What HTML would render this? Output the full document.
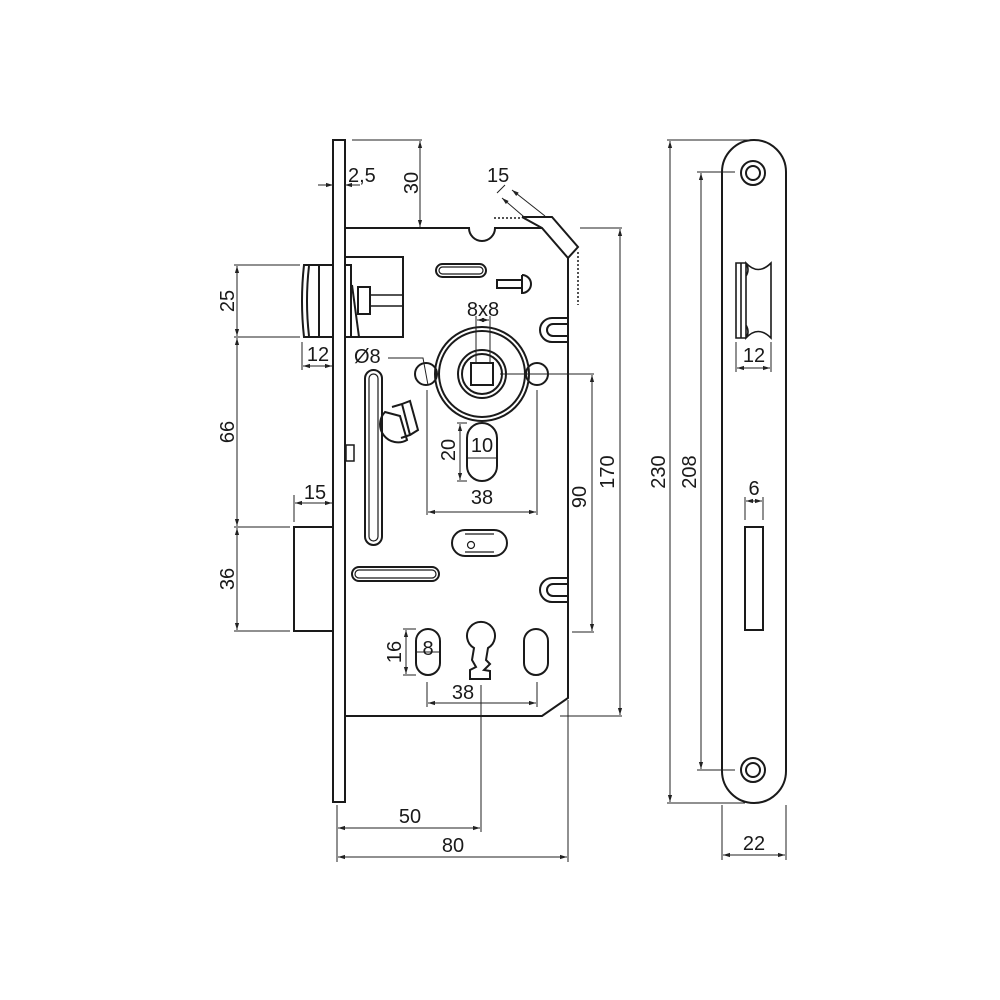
<!DOCTYPE html>
<html><head><style>
html,body{margin:0;padding:0;background:#fff;}
svg{display:block;}
text{font-family:"Liberation Sans",Arial,sans-serif;font-size:20px;fill:#1a1a1a;}
</style></head><body>
<svg width="1000" height="1000" viewBox="0 0 1000 1000" xmlns="http://www.w3.org/2000/svg">
<defs>
<marker id="a" viewBox="0 0 10 10" refX="10" refY="5" markerWidth="7" markerHeight="7" orient="auto-start-reverse"><path d="M0,2 L10,5 L0,8 z" fill="#222"/></marker>
</defs>
<g fill="none" stroke="#1a1a1a" stroke-width="2">
<rect x="333" y="140" width="12" height="662"/>
<path d="M345,228 H469 A13,13 0 0 0 495,228 H542 L568,258 V698 L542,716 H345"/>
<path d="M522,217 H552 L578,247 L568,258 M542,228 L522,217"/>
<path d="M494,218 H521" stroke-dasharray="2,2" stroke-width="1.5"/>
<path d="M578,252 V305" stroke-dasharray="2,2" stroke-width="1.5"/>
<path d="M304,265 H333 V337 H304 Q300,301 304,265 Z"/>
<path d="M309,266 Q305,301 309,336 M319,266 V337"/>
<rect x="345" y="257" width="58" height="80"/>
<rect x="345" y="265" width="6" height="72"/>
<path d="M352,285 L359,337"/>
<rect x="358" y="287" width="12" height="27"/>
<path d="M370,295 H403 M370,306 H403" stroke-width="1.5"/>
<rect x="294" y="527" width="39" height="104"/>
<rect x="436" y="264" width="50" height="13" rx="6.5"/>
<rect x="439" y="267" width="44" height="7" rx="3.5" stroke-width="1.2"/>
<rect x="352" y="567" width="87" height="14" rx="7"/>
<rect x="355" y="570" width="81" height="8" rx="4" stroke-width="1.2"/>
<rect x="365" y="370" width="17" height="175" rx="8.5"/>
<rect x="369" y="374" width="9" height="167" rx="4.5" stroke-width="1.2"/>
<rect x="497" y="280" width="25" height="8"/>
<path d="M522,275 V293 A9,9 0 0 0 522,275"/>
<path d="M568,318 H552 A12,12 0 0 0 552,342 H568 M568,324 H553 A6,6 0 0 0 553,336 H568"/>
<path d="M568,578 H552 A12,12 0 0 0 552,602 H568 M568,584 H553 A6,6 0 0 0 553,596 H568"/>
<path d="M385,412 A18,18 0 0 0 407,440 L400,416 Z"/>
<path d="M392,407 L402,404 L410,435 L401,438 M402,404 L410,401 L418,430 L410,435"/>
<rect x="346" y="445" width="8" height="16" stroke-width="1.5"/>
<circle cx="482" cy="374" r="47"/>
<circle cx="482" cy="374" r="43"/>
<circle cx="482" cy="374" r="24"/>
<circle cx="482" cy="374" r="20"/>
<rect x="471" y="363" width="22" height="22"/>
<circle cx="426" cy="374" r="11"/>
<circle cx="537" cy="374" r="11"/>
<rect x="467" y="423" width="30" height="58" rx="15"/>
<path d="M465,530 H494 A13,13 0 0 1 494,556 H465 A13,13 0 0 1 465,530 Z"/>
<path d="M465,534 H494 M465,552 H494" stroke-width="1.2"/>
<circle cx="471" cy="545" r="3.5" stroke-width="1.2"/>
<rect x="416" y="629" width="24" height="46" rx="12"/>
<rect x="524" y="629" width="24" height="46" rx="12"/>
<path d="M474,648 A14,14 0 1 1 488,648 L486,660 L490,664 L484,670 L490,671 L490,679 L470,679 L470,670 L476,667 L472,660 Z"/>
<path d="M722,172 A32,32 0 0 1 786,172 V771 A32,32 0 0 1 722,771 Z"/>
<circle cx="753" cy="173" r="12"/><circle cx="753" cy="173" r="7"/>
<circle cx="753" cy="770" r="12"/><circle cx="753" cy="770" r="7"/>
<path d="M736,263 H741 V338 H736 Z M741,263 H746 M741,338 H746 M746,263 Q758,276 771,263 V338 Q758,325 746,338 Z M746,263 Q750,270 746,276 M746,325 Q750,332 746,338" stroke-width="1.6"/>
<rect x="745" y="527" width="18" height="103"/>
</g>
<g fill="none" stroke="#222" stroke-width="1">
<path d="M352,140 H422"/><path d="M420,141 V227" marker-start="url(#a)" marker-end="url(#a)"/>
<path d="M318,185 H333" marker-end="url(#a)"/><path d="M360,185 H345" marker-end="url(#a)"/>
<path d="M497,193 L505,185"/>
<path d="M512,190 L545,216" marker-start="url(#a)"/>
<path d="M502,198 L530,222" marker-start="url(#a)"/>
<path d="M580,228 H622 M560,716 H622"/>
<path d="M620,229 V715" marker-start="url(#a)" marker-end="url(#a)"/>
<path d="M500,374 H594 M572,632 H594"/>
<path d="M592,375 V631" marker-start="url(#a)" marker-end="url(#a)"/>
<path d="M234,265 H300 M234,337 H300 M234,527 H290 M234,631 H290"/>
<path d="M237,266 V336" marker-start="url(#a)" marker-end="url(#a)"/>
<path d="M237,338 V526" marker-start="url(#a)" marker-end="url(#a)"/>
<path d="M237,528 V630" marker-start="url(#a)" marker-end="url(#a)"/>
<path d="M302,342 V370"/>
<path d="M303,366 H332" marker-start="url(#a)" marker-end="url(#a)"/>
<path d="M294,495 V522"/>
<path d="M295,503 H332" marker-start="url(#a)" marker-end="url(#a)"/>
<path d="M476,316 V363 M490,316 V363"/>
<path d="M477,320 H489" marker-start="url(#a)" marker-end="url(#a)"/>
<path d="M388,358 H423 L428,385"/>
<path d="M427,390 V515 M537,390 V515"/>
<path d="M428,512 H536" marker-start="url(#a)" marker-end="url(#a)"/>
<path d="M460,424 V480" marker-start="url(#a)" marker-end="url(#a)"/>
<path d="M457,423 H467 M457,481 H467 M468,458 H496"/>
<path d="M403,629 H416 M403,675 H416 M417,652 H439"/>
<path d="M406,630 V674" marker-start="url(#a)" marker-end="url(#a)"/>
<path d="M427,682 V707 M537,682 V707"/>
<path d="M428,703 H536" marker-start="url(#a)" marker-end="url(#a)"/>
<path d="M481,685 V832 M568,700 V862 M337,805 V862"/>
<path d="M338,828 H480" marker-start="url(#a)" marker-end="url(#a)"/>
<path d="M338,857 H567" marker-start="url(#a)" marker-end="url(#a)"/>
<path d="M667,140 H750 M697,172 H735 M697,770 H735 M667,803 H745"/>
<path d="M670,141 V802" marker-start="url(#a)" marker-end="url(#a)"/>
<path d="M701,173 V769" marker-start="url(#a)" marker-end="url(#a)"/>
<path d="M722,805 V860 M786,805 V860"/>
<path d="M723,855 H785" marker-start="url(#a)" marker-end="url(#a)"/>
<path d="M736,342 V372 M771,342 V372"/>
<path d="M737,368 H770" marker-start="url(#a)" marker-end="url(#a)"/>
<path d="M745,497 V520 M763,497 V520"/>
<path d="M746,501 H762" marker-start="url(#a)" marker-end="url(#a)"/>
</g>
<g>
<text x="348" y="182">2,5</text>
<text transform="translate(418,183) rotate(-90)" text-anchor="middle">30</text>
<text x="487" y="182">15</text>
<text transform="translate(614,472) rotate(-90)" text-anchor="middle">170</text>
<text transform="translate(586,497) rotate(-90)" text-anchor="middle">90</text>
<text transform="translate(234,301) rotate(-90)" text-anchor="middle">25</text>
<text transform="translate(234,432) rotate(-90)" text-anchor="middle">66</text>
<text transform="translate(234,579) rotate(-90)" text-anchor="middle">36</text>
<text x="318" y="361" text-anchor="middle">12</text>
<text x="315" y="499" text-anchor="middle">15</text>
<text x="483" y="316" text-anchor="middle">8x8</text>
<text x="354" y="363">Ø8</text>
<text transform="translate(455,450) rotate(-90)" text-anchor="middle">20</text>
<text x="482" y="452" text-anchor="middle">10</text>
<text x="482" y="504" text-anchor="middle">38</text>
<text transform="translate(401,652) rotate(-90)" text-anchor="middle">16</text>
<text x="428" y="655" text-anchor="middle">8</text>
<text x="463" y="699" text-anchor="middle">38</text>
<text x="410" y="823" text-anchor="middle">50</text>
<text x="453" y="852" text-anchor="middle">80</text>
<text transform="translate(665,472) rotate(-90)" text-anchor="middle">230</text>
<text transform="translate(696,472) rotate(-90)" text-anchor="middle">208</text>
<text x="754" y="362" text-anchor="middle">12</text>
<text x="754" y="495" text-anchor="middle">6</text>
<text x="754" y="850" text-anchor="middle">22</text>
</g>
</svg>
</body></html>
